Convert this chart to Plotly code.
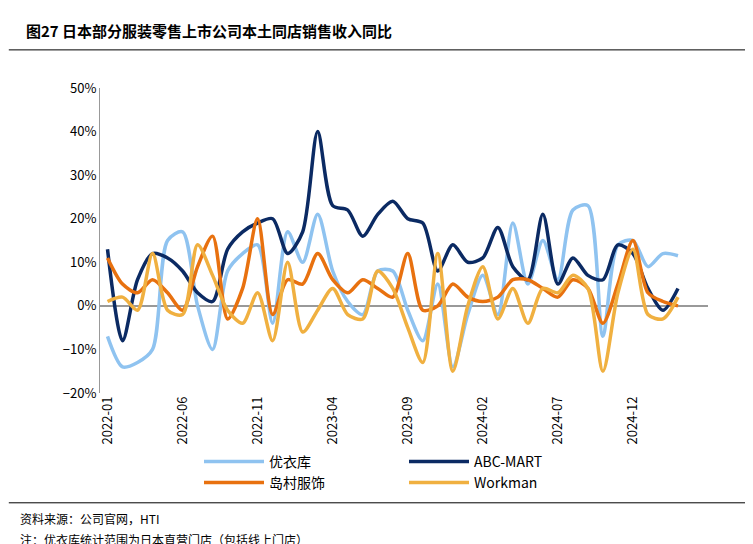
import plotly.graph_objects as go

months = [f"{2022 + (i // 12)}-{(i % 12) + 1:02d}" for i in range(39)]
tick_labels = ["2022-01","2022-06","2022-11","2023-04","2023-09","2024-02","2024-07","2024-12"]

uniqlo = [-7,-14,-13,-10,15,17,0,-10,8,12,14,-4,17,10,21,8,1,-2,8,8,-1,-8,5,-14,-2,7,-2,19,5,15,6,22,23,-7,14,15,9,12,11.5]
abc = [13,-8,6,12,11,8,3,1,13,17,19,20,12,17,40,23,22,16,21,24,20,19,8,14,10,11,18,9,6,21,5,11,7,6,14,12,4,-1,4]
shimamura = [11,5,3,6,3,-1,9,16,-3,4,20,-2,6,5,12,6,3,6,4,2,12,-1,0,5,2,1,2,6,6,4,2,6,4,-4,5,15,3,1,0]
workman = [1,2,-1,12,-1,-2,14,7,-1,-4,3,-8,10,-6,-1,4,-2,-3,8,4,-5,-13,12,-15,0,9,-3,4,-4,4,3,7,4,-15,3,13,-2,-3,2]

series = [("优衣库", uniqlo, "#8fc3f0"), ("ABC-MART", abc, "#0b2a63"),
          ("岛村服饰", shimamura, "#e8710f"), ("Workman", workman, "#f0b040")]

fig = go.Figure()
for name, vals, col in series:
    fig.add_trace(go.Scatter(x=months, y=[v/100 for v in vals], name=name, mode="lines",
                             line=dict(color=col, width=3.5, shape="spline", smoothing=0.8)))

font = "Noto Sans CJK SC, Arial"
fig.update_layout(
    width=753, height=544, paper_bgcolor="white", plot_bgcolor="white",
    margin=dict(l=92, r=53, t=80, b=159),
    font=dict(family=font, size=13, color="black"),
    showlegend=True,
    legend=dict(orientation="h", x=0.5, xanchor="center", y=-0.26, yanchor="middle",
                font=dict(size=14), itemwidth=60, entrywidth=130),
    xaxis=dict(type="category", tickmode="array", tickvals=tick_labels, ticktext=tick_labels,
               tickangle=-90, showgrid=False, showline=False, ticks="", range=[-0.5, 40]),
    yaxis=dict(range=[-0.2, 0.5], dtick=0.1, tickformat=".0%", showgrid=False,
               showline=True, linecolor="#999", zeroline=True, zerolinecolor="#999", ticks=""),
    annotations=[
        dict(text="<b>图27 日本部分服装零售上市公司本土同店销售收入同比</b>", x=-0.125, y=1.19,
             xref="paper", yref="paper", xanchor="left", yanchor="middle", showarrow=False, font=dict(size=15)),
        dict(text="资料来源：公司官网，HTI", x=-0.135, y=-0.41, xref="paper", yref="paper",
             xanchor="left", yanchor="middle", showarrow=False, font=dict(size=12)),
        dict(text="注：优衣库统计范围为日本直营门店（包括线上门店）", x=-0.135, y=-0.48, xref="paper", yref="paper",
             xanchor="left", yanchor="middle", showarrow=False, font=dict(size=12)),
    ],
)
fig.add_shape(type="line", xref="paper", yref="paper", x0=-0.15, x1=1.08, y0=1.125, y1=1.125, line=dict(color="black", width=1))
fig.add_shape(type="line", xref="paper", yref="paper", x0=-0.15, x1=1.08, y0=-0.36, y1=-0.36, line=dict(color="black", width=1))
fig.write_html("out.html")
